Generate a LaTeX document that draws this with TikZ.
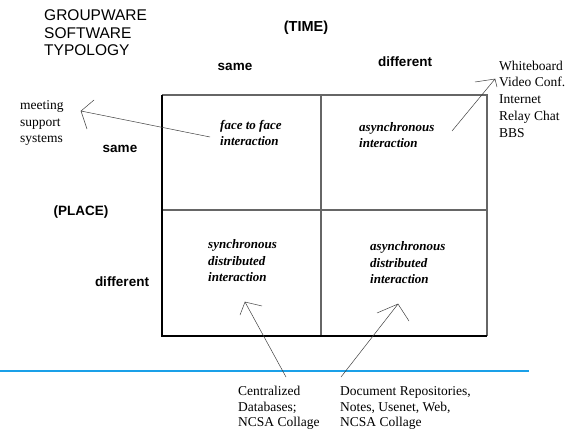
\documentclass[tikz,border=0pt]{standalone}
\usepackage{fontspec}
\setmainfont{Liberation Serif}
\newfontfamily\labelfont{Liberation Sans}
\begin{document}
\begin{tikzpicture}[x=1pt,y=-1pt,
  heading/.style={font=\labelfont\fontsize{15.5}{17.5}\selectfont, align=left, inner sep=0pt, anchor=west},
  axis/.style={font=\labelfont\bfseries\fontsize{13.5}{15}\selectfont, inner sep=0pt},
  cell/.style={font=\bfseries\itshape\fontsize{13}{16.5}\selectfont, align=left, inner sep=0pt, anchor=west},
  note/.style={font=\fontsize{13.5}{16.8}\selectfont, align=left, inner sep=0pt, anchor=west},
  grid/.style={line width=1.3pt, draw=black!60},
  pointer/.style={line width=0.5pt, draw=black!75},
  rule/.style={line width=2pt, draw={rgb,255:red,26;green,160;blue,232}}]
\useasboundingbox (0,0) rectangle (578,436);

% title and axis labels
\node[heading] (title) at (44,33) {GROUPWARE\\SOFTWARE\\TYPOLOGY};
\node[axis, font=\labelfont\bfseries\fontsize{14.5}{15}\selectfont] (time) at (306,28) {(TIME)};
\node[axis] (tsame) at (235,67) {same};
\node[axis] (tdiff) at (405,62) {different};
\node[axis] (place) at (81,212) {(PLACE)};
\node[axis] (psame) at (120,149) {same};
\node[axis] (pdiff) at (122,282) {different};

% the 2x2 grid
\draw[grid] (162,95) -- (487,95) -- (487,336);
\draw[grid] (321,95) -- (321,336);
\draw[grid] (162,210) -- (487,210);
\draw[line width=1.3pt] (162,95) -- (162,336) -- (487,336);

% cell texts
\node[cell] (ftf) at (220,133) {face to face\\interaction};
\node[cell] (async) at (359,135) {asynchronous\\interaction};
\node[cell] (sdist) at (208,261) {synchronous\\distributed\\interaction};
\node[cell] (adist) at (370,263) {asynchronous\\distributed\\interaction};

% example systems
\node[note] (meet) at (20,123) {meeting\\support\\systems};
\node[note] (wb) at (499,99) {Whiteboard\\Video Conf.\\Internet\\Relay Chat\\BBS};
\node[note, font=\fontsize{13.5}{15.5}\selectfont] (cdb) at (238,408) {Centralized\\Databases;\\NCSA Collage};
\node[note, font=\fontsize{13.5}{15.5}\selectfont] (docs) at (340,408) {Document Repositories,\\Notes, Usenet, Web,\\NCSA Collage};

% separator
\draw[rule] (0,371) -- (529,371);

% pointers with hand-drawn open heads
\coordinate (m1) at (210,137); \coordinate (m2) at (81,111);
\draw[pointer] (m1) -- (m2) (94,100) -- (m2) -- (87,129);
\coordinate (w1) at (452,131); \coordinate (w2) at (495,79);
\draw[pointer] (w1) -- (w2) (475,82) -- (w2) -- (497,87);
\coordinate (c1) at (286,377); \coordinate (c2) at (245,302);
\draw[pointer] (c1) -- (c2) (240,315) -- (c2) -- (262,306);
\coordinate (d1) at (341,377); \coordinate (d2) at (398,304);
\draw[pointer] (d1) -- (d2) (377,313) -- (d2) -- (409,321);
\end{tikzpicture}
\end{document}
